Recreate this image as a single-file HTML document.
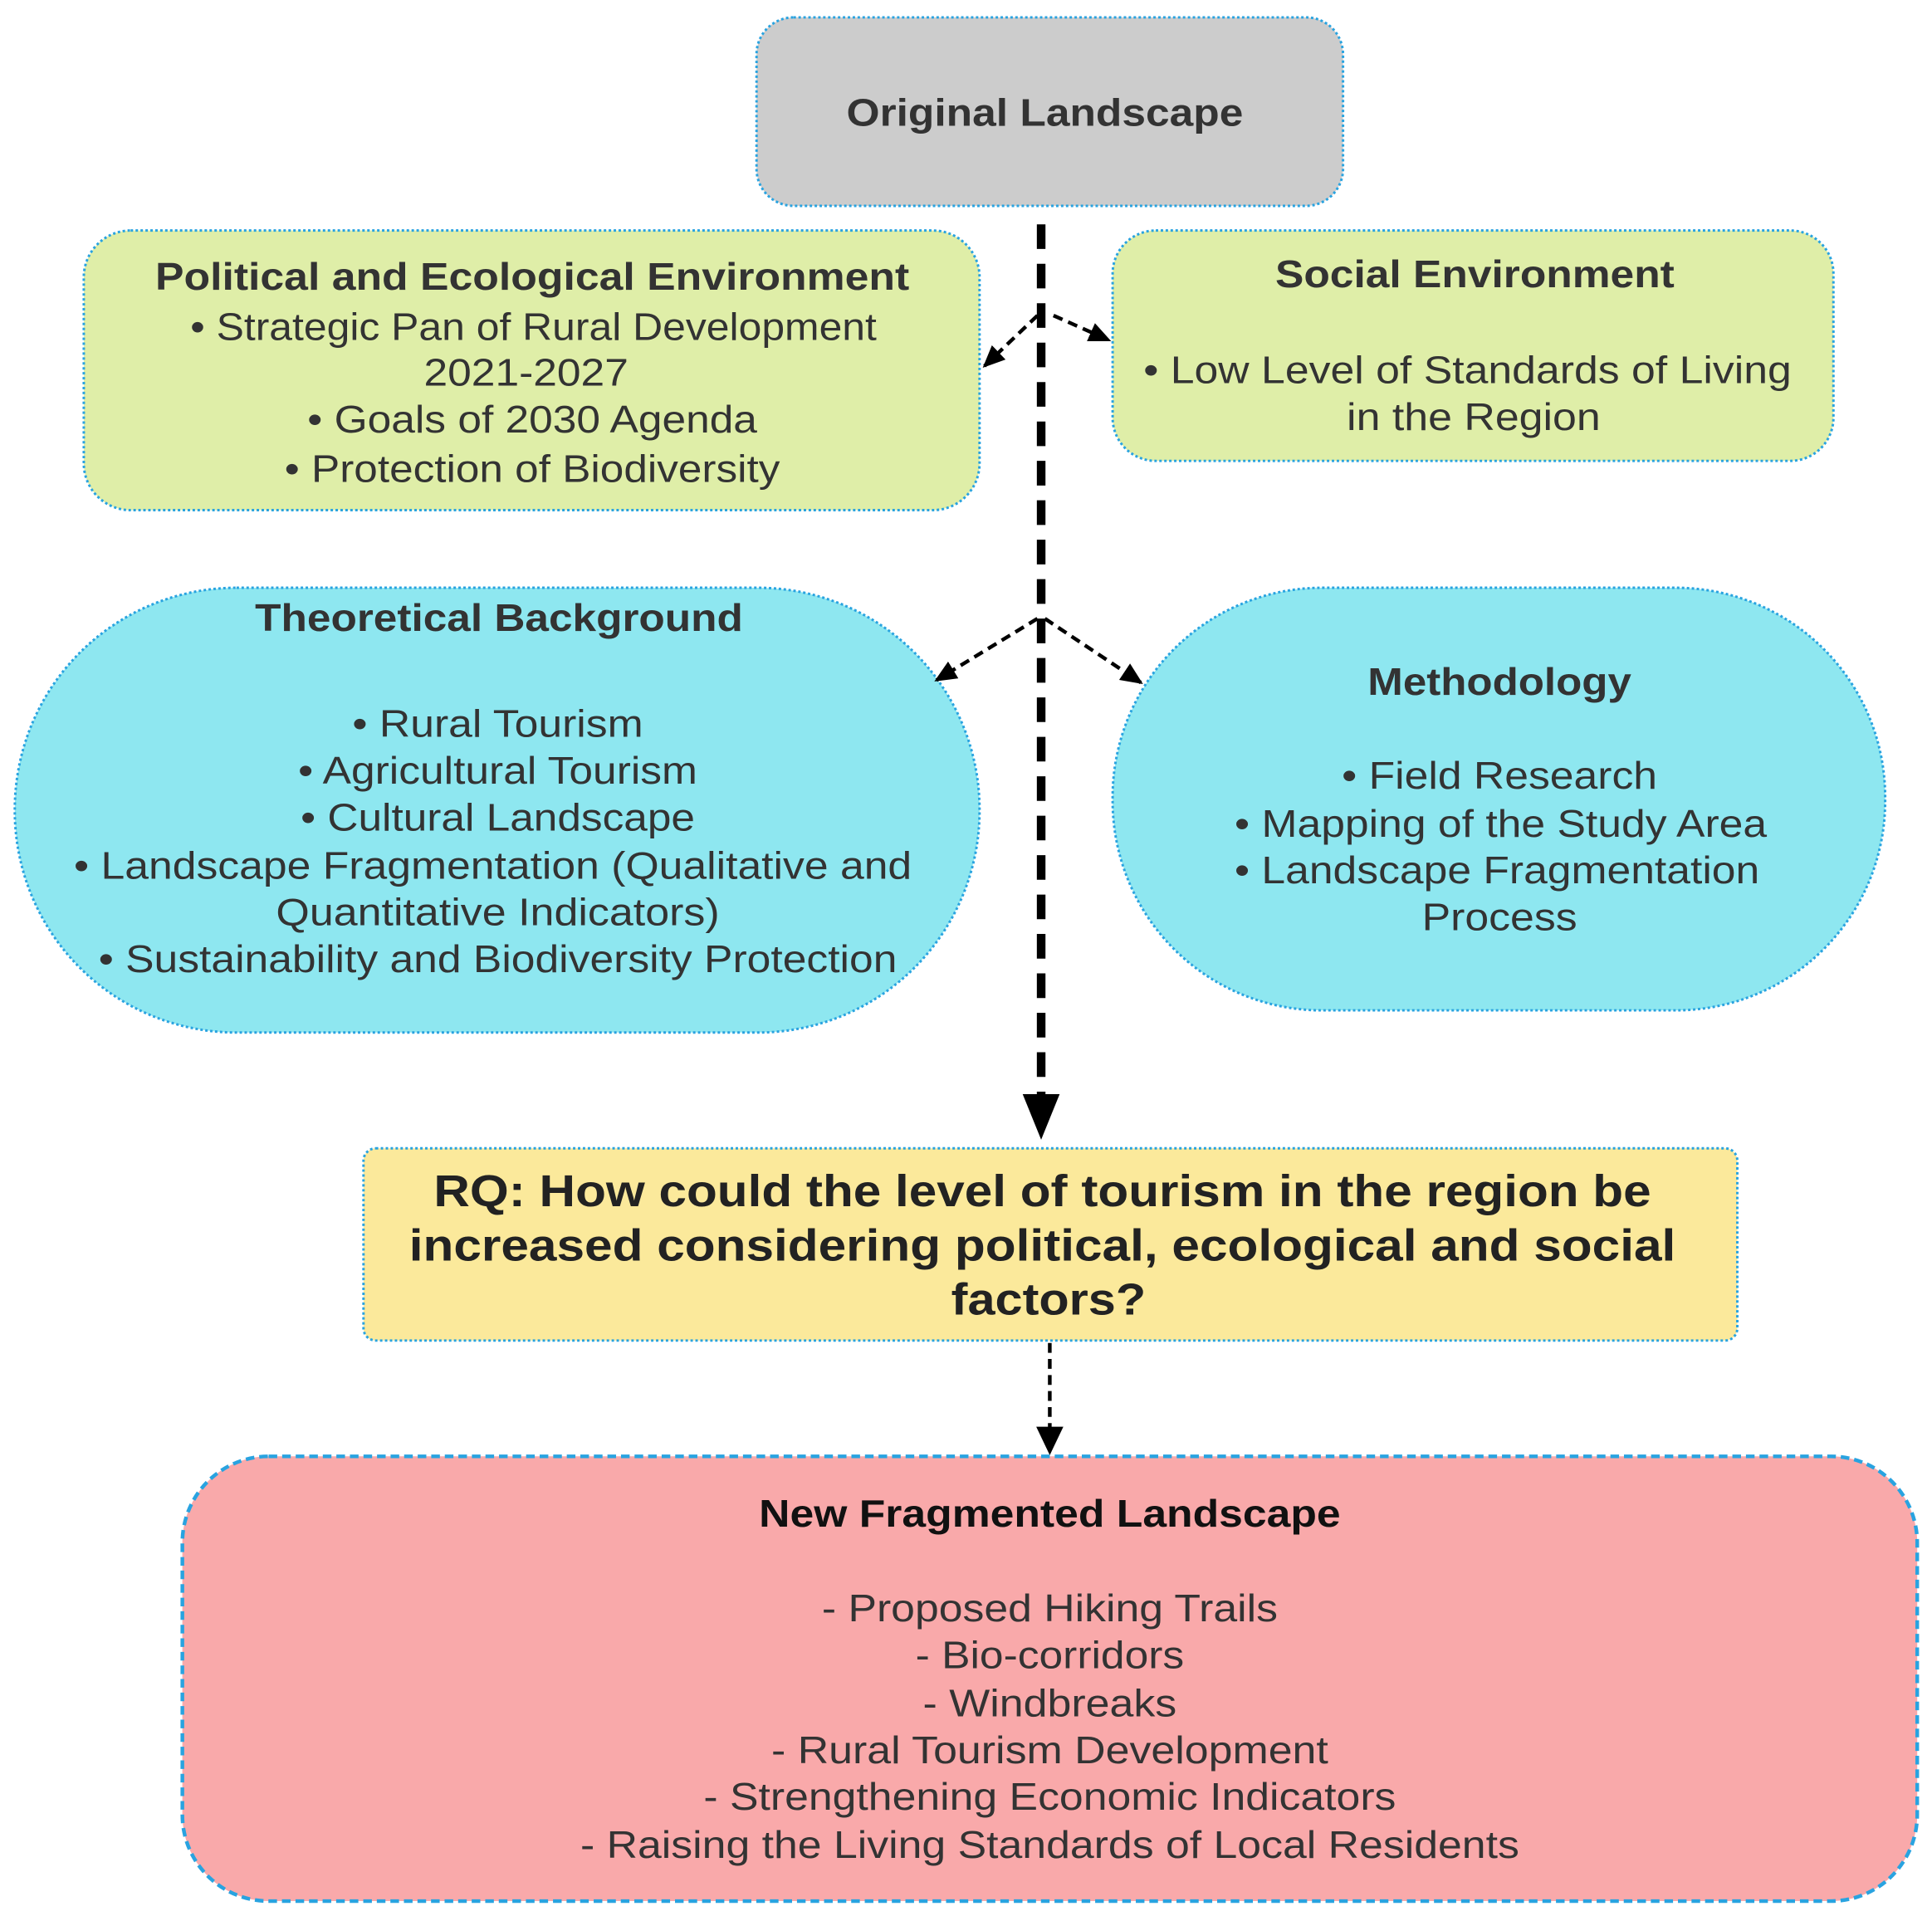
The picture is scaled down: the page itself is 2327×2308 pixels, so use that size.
<!DOCTYPE html>
<html><head><meta charset="utf-8"><style>html,body{margin:0;padding:0;background:#fff}svg{display:block}</style></head><body>
<svg width="2327" height="2308" viewBox="0 0 1568 1555" xmlns="http://www.w3.org/2000/svg" font-family="Liberation Sans, Arial, sans-serif">
<defs>
<marker id="ah" markerWidth="10" markerHeight="10" refX="8" refY="5" orient="auto" markerUnits="userSpaceOnUse"><path d="M0,0 L10,5 L0,10 z" fill="#000"/></marker>
<marker id="ah2" markerWidth="20" markerHeight="20" refX="16" refY="10" orient="auto" markerUnits="userSpaceOnUse"><path d="M0,2 L18,10 L0,18 z" fill="#000"/></marker>
</defs>
<g stroke="#29a3e0" stroke-width="2" stroke-dasharray="2,2">
<rect x="614" y="14" width="476" height="153" rx="30" fill="#cccccc"/>
<rect x="68" y="187" width="727" height="227" rx="38" fill="#dfeea8"/>
<rect x="903" y="187" width="585" height="187" rx="35" fill="#dfeea8"/>
<rect x="12" y="477" width="783" height="361" rx="180" fill="#8ee7f0"/>
<rect x="903" y="477" width="627" height="343" rx="170" fill="#8ee7f0"/>
<rect x="295" y="932" width="1115" height="156" rx="10" fill="#fbe99b"/>
<rect x="148" y="1182" width="1408" height="361" rx="70" fill="#f9a9aa" stroke-width="3" stroke-dasharray="7,4"/>
</g>
<g stroke="#000" fill="none">
<line x1="845" y1="182" x2="845" y2="890" stroke-width="7" stroke-dasharray="20,12"/>
<path d="M830,888 L860,888 L845,925 z" fill="#000" stroke="none"/>
<line x1="842" y1="256" x2="799" y2="297" stroke-width="3" stroke-dasharray="8,5" marker-end="url(#ah2)"/>
<line x1="855" y1="256" x2="900" y2="276" stroke-width="3" stroke-dasharray="8,5" marker-end="url(#ah2)"/>
<line x1="842" y1="502" x2="760" y2="552" stroke-width="3" stroke-dasharray="8,5" marker-end="url(#ah2)"/>
<line x1="848" y1="502" x2="926" y2="554" stroke-width="3" stroke-dasharray="8,5" marker-end="url(#ah2)"/>
<line x1="852" y1="1090" x2="852" y2="1162" stroke-width="3" stroke-dasharray="8,5"/>
<path d="M841,1158 L863,1158 L852,1181 z" fill="#000" stroke="none"/>
</g>
<g fill="#333" text-anchor="middle" font-size="31" lengthAdjust="spacingAndGlyphs">
<text x="848" y="102" font-weight="bold" textLength="322" lengthAdjust="spacingAndGlyphs">Original Landscape</text>
<text x="432" y="235" font-weight="bold" textLength="612" lengthAdjust="spacingAndGlyphs">Political and Ecological Environment</text>
<text x="433" y="276" textLength="557" lengthAdjust="spacingAndGlyphs">• Strategic Pan of Rural Development</text>
<text x="427" y="313" textLength="166" lengthAdjust="spacingAndGlyphs">2021-2027</text>
<text x="432" y="351" textLength="365" lengthAdjust="spacingAndGlyphs">• Goals of 2030 Agenda</text>
<text x="432" y="391" textLength="402" lengthAdjust="spacingAndGlyphs">• Protection of Biodiversity</text>
<text x="1197" y="233" font-weight="bold" textLength="324" lengthAdjust="spacingAndGlyphs">Social Environment</text>
<text x="1191" y="311" textLength="526" lengthAdjust="spacingAndGlyphs">• Low Level of Standards of Living</text>
<text x="1196" y="349" textLength="206" lengthAdjust="spacingAndGlyphs">in the Region</text>
<text x="405" y="512" font-weight="bold" textLength="396" lengthAdjust="spacingAndGlyphs">Theoretical Background</text>
<text x="404" y="598" textLength="236" lengthAdjust="spacingAndGlyphs">• Rural Tourism</text>
<text x="404" y="636" textLength="324" lengthAdjust="spacingAndGlyphs">• Agricultural Tourism</text>
<text x="404" y="674" textLength="320" lengthAdjust="spacingAndGlyphs">• Cultural Landscape</text>
<text x="400" y="713" textLength="680" lengthAdjust="spacingAndGlyphs">• Landscape Fragmentation (Qualitative and</text>
<text x="404" y="751" textLength="360" lengthAdjust="spacingAndGlyphs">Quantitative Indicators)</text>
<text x="404" y="789" textLength="648" lengthAdjust="spacingAndGlyphs">• Sustainability and Biodiversity Protection</text>
<text x="1217" y="564" font-weight="bold" textLength="214" lengthAdjust="spacingAndGlyphs">Methodology</text>
<text x="1217" y="640" textLength="256" lengthAdjust="spacingAndGlyphs">• Field Research</text>
<text x="1218" y="679" textLength="432" lengthAdjust="spacingAndGlyphs">• Mapping of the Study Area</text>
<text x="1215" y="717" textLength="426" lengthAdjust="spacingAndGlyphs">• Landscape Fragmentation</text>
<text x="1217" y="755" textLength="126" lengthAdjust="spacingAndGlyphs">Process</text>
<g font-weight="bold" font-size="36" fill="#222">
<text x="846" y="979" textLength="988" lengthAdjust="spacingAndGlyphs">RQ: How could the level of tourism in the region be</text>
<text x="846" y="1023" textLength="1028" lengthAdjust="spacingAndGlyphs">increased considering political, ecological and social</text>
<text x="851" y="1067" textLength="158" lengthAdjust="spacingAndGlyphs">factors?</text>
</g>
<text x="852" y="1239" font-weight="bold" fill="#111" textLength="472" lengthAdjust="spacingAndGlyphs">New Fragmented Landscape</text>
<text x="852" y="1316" textLength="370" lengthAdjust="spacingAndGlyphs">- Proposed Hiking Trails</text>
<text x="852" y="1354" textLength="218" lengthAdjust="spacingAndGlyphs">- Bio-corridors</text>
<text x="852" y="1393" textLength="206" lengthAdjust="spacingAndGlyphs">- Windbreaks</text>
<text x="852" y="1431" textLength="452" lengthAdjust="spacingAndGlyphs">- Rural Tourism Development</text>
<text x="852" y="1469" textLength="562" lengthAdjust="spacingAndGlyphs">- Strengthening Economic Indicators</text>
<text x="852" y="1508" textLength="762" lengthAdjust="spacingAndGlyphs">- Raising the Living Standards of Local Residents</text>
</g>
</svg>
</body></html>
